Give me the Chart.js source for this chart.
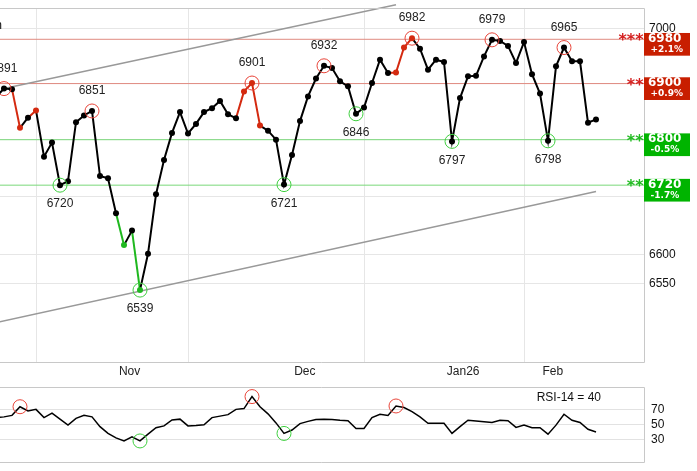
<!DOCTYPE html>
<html><head><meta charset="utf-8">
<script src="https://cdn.jsdelivr.net/npm/chart.js@4.4.1/dist/chart.umd.min.js"></script>
<style>
html,body{margin:0;padding:0;background:#fff;width:697px;height:471px;overflow:hidden;}
#c1{position:absolute;left:0;top:0;}
#c2{position:absolute;left:0;top:380px;}
</style></head><body>
<canvas id="c1" width="697" height="380"></canvas>
<canvas id="c2" width="697" height="91"></canvas>
<script>
// ---- data (index = trading day, 0 is just off the left edge) ----
const closes = [6876, 6891, 6890, 6821, 6839, 6852, 6770, 6795, 6720, 6727,
  6831, 6843, 6851, 6736, 6732, 6671, 6616, 6641, 6539, 6601,
  6704, 6764, 6812, 6849, 6811, 6828, 6849, 6856, 6869, 6845,
  6838, 6886, 6901, 6825, 6816, 6800, 6721, 6773, 6833, 6877,
  6909, 6932, 6928, 6904, 6895, 6846, 6857, 6901, 6943, 6919,
  6920, 6965, 6982, 6963, 6925, 6943, 6939, 6797, 6874, 6913,
  6914, 6949, 6979, 6977, 6968, 6937, 6975, 6917, 6882, 6798,
  6931, 6965, 6940, 6940, 6830, 6836];
const rsi = [59, 60, 62, 73.5, 68, 70, 59, 65, 57, 49,
  58, 62, 60, 47, 38, 32, 28, 33.5, 28, 37,
  45.5, 48, 56, 57, 48, 48.5, 49.5, 59, 61, 63,
  70, 71, 87, 73.5, 64, 52, 38, 42.5, 51, 54,
  56.5, 57, 56.5, 55.5, 55, 44.5, 44.5, 59, 63.5, 62,
  74.5, 72.5, 67, 60, 51.5, 51.5, 51.5, 38, 47, 55.5,
  54.5, 53.5, 52.5, 55.5, 55, 46, 49, 45.5, 45.5, 37,
  49, 63.5, 55.5, 52.5, 43.5, 40];
const peakIdx = [1, 12, 32, 41, 52, 62, 71];
const troughIdx = [8, 18, 36, 45, 57, 69];
const redIdx = [3, 5, 31, 32, 33, 50, 51, 52];
const greenIdx = [16, 18];
const levels = [6980, 6900, 6800, 6720];
const levelStars = ['***', '**', '**', '**'];
const levelPct = ['+2.1%', '+0.9%', '-0.5%', '-1.7%'];
const levelSide = ['up', 'up', 'down', 'down'];
const upperTrendIdx = [1, 50];
const upperTrendVal = [6891, 7043];
const lowerTrendIdx = [0, 75];
const lowerTrendVal = [6484, 6709];
const rsiPeakIdx = [3, 32, 50];
const rsiTroughIdx = [18, 36];
const rsiTicks = [30, 50, 70];
const rsiName = 'RSI-14';
const monthStartIdx = [5, 24, 46, 66];
const monthLabelIdx = [16.7, 38.6, 58.4, 69.6];
const monthLabels = ['Nov', 'Dec', 'Jan26', 'Feb'];
const yGridValues = [6550, 6600, 6700, 6800, 6900, 7000];
const yLabelValues = [7000, 6600, 6550];
const yRange = [6417.8, 7036.5];
const xRange = [0.5, 81];
const chartTitle = 'S&P 500 (SP500) Medium term';

// ---- styling ----
const RED = '#d42a10', GREEN = '#1fb81f';
const FONT = '"Liberation Sans", Arial, sans-serif';
const BOXFONT = '"DejaVu Sans", Verdana, sans-serif';
Chart.defaults.font.family = FONT;
Chart.defaults.font.size = 12;
Chart.defaults.color = '#111';

const zeroPad = s => { s.paddingTop = 0; s.paddingBottom = 0; s.paddingLeft = 0; s.paddingRight = 0; };

const frame = {
  id: 'frame',
  afterDraw(chart) {
    const {ctx, chartArea: a} = chart;
    ctx.save();
    ctx.strokeStyle = '#c8c8c8'; ctx.lineWidth = 1;
    const t = Math.round(a.top) + 0.5, b = Math.round(a.bottom) + 0.5, r = Math.round(a.right) + 0.5;
    ctx.beginPath();
    ctx.moveTo(a.left - 2, t); ctx.lineTo(r, t); ctx.lineTo(r, b); ctx.lineTo(a.left - 2, b);
    ctx.stroke();
    ctx.restore();
  }
};

const annot = {
  id: 'annot',
  afterDraw(chart) {
    const {ctx, chartArea: a, scales: {x, y}} = chart;
    ctx.save();
    ctx.font = '13px ' + FONT; ctx.fillStyle = '#222';
    ctx.textAlign = 'right'; ctx.textBaseline = 'middle';
    ctx.fillText(chartTitle, a.left + 2, a.top + 17);
    ctx.font = '12px ' + FONT; ctx.fillStyle = '#222';
    ctx.textAlign = 'center'; ctx.textBaseline = 'middle';
    peakIdx.forEach(i => ctx.fillText(String(closes[i]), x.getPixelForValue(i), y.getPixelForValue(closes[i]) - 20));
    troughIdx.forEach(i => ctx.fillText(String(closes[i]), x.getPixelForValue(i), y.getPixelForValue(closes[i]) + 19));
    levels.forEach((L, k) => {
      const py = y.getPixelForValue(L);
      const col = levelSide[k] === 'up' ? '#c81e00' : '#00b400';
      ctx.fillStyle = col;
      ctx.fillRect(a.right, py - 6.3, 46, 22.7);
      ctx.fillStyle = '#fff'; ctx.textAlign = 'left'; ctx.textBaseline = 'alphabetic';
      ctx.font = 'bold 12px ' + BOXFONT;
      ctx.fillText(String(L), a.right + 4, py + 2.6);
      ctx.font = 'bold 9px ' + BOXFONT;
      ctx.fillText(levelPct[k], a.right + 6.5, py + 12.4);
      ctx.fillStyle = levelSide[k] === 'up' ? '#d42020' : '#22bb22';
      ctx.font = 'bold 16px ' + BOXFONT; ctx.textAlign = 'right';
      ctx.fillText(levelStars[k], a.right - 0.5, py + 6);
    });
    ctx.restore();
  }
};

const pts = closes.map((v, i) => ({x: i, y: v}));
const ptColor = i => redIdx.includes(i) ? RED : (greenIdx.includes(i) ? GREEN : '#000');

const levelSets = levels.map((L, k) => ({
  data: [{x: xRange[0], y: L}, {x: xRange[1], y: L}],
  borderColor: levelSide[k] === 'up' ? '#e08a80' : '#7ad87a',
  borderWidth: 1, pointRadius: 0, order: 5
}));

new Chart(document.getElementById('c1'), {
  type: 'line',
  data: {
    datasets: [
      { data: peakIdx.map(i => ({x: i, y: closes[i]})), showLine: false, pointRadius: 7,
        pointBackgroundColor: 'rgba(0,0,0,0)', pointBorderColor: '#e8453a', pointBorderWidth: 1, order: 0 },
      { data: troughIdx.map(i => ({x: i, y: closes[i]})), showLine: false, pointRadius: 7,
        pointBackgroundColor: 'rgba(0,0,0,0)', pointBorderColor: '#3fcf3f', pointBorderWidth: 1, order: 0 },
      { data: pts, borderColor: '#000', borderWidth: 2, tension: 0,
        pointRadius: 3, pointBorderWidth: 0,
        pointBackgroundColor: closes.map((_, i) => ptColor(i)),
        segment: { borderColor: c => ptColor(c.p1DataIndex) },
        order: 1 },
      { data: upperTrendIdx.map((i, k) => ({x: i, y: upperTrendVal[k]})), borderColor: '#999', borderWidth: 1.5,
        pointRadius: 0, clip: false, order: 3 },
      { data: lowerTrendIdx.map((i, k) => ({x: i, y: lowerTrendVal[k]})), borderColor: '#999', borderWidth: 1.5,
        pointRadius: 0, order: 3 },
      ...levelSets
    ]
  },
  options: {
    responsive: false, animation: false, events: [],
    layout: { autoPadding: false, padding: { top: 8.3, left: 0, right: 0, bottom: 0 } },
    plugins: { legend: { display: false }, tooltip: { enabled: false } },
    scales: {
      x: {
        type: 'linear', min: xRange[0], max: xRange[1],
        afterBuildTicks: s => { s.ticks = [...monthStartIdx, ...monthLabelIdx].sort((a, b) => a - b).map(v => ({value: v})); },
        afterFit: s => { s.height = 18; zeroPad(s); },
        grid: { color: c => (c.tick && monthStartIdx.includes(c.tick.value)) ? '#e6e6e6' : 'rgba(0,0,0,0)', drawTicks: false },
        border: { display: false },
        ticks: { autoSkip: false, maxRotation: 0, padding: 2, color: '#222',
          callback: v => { const k = monthLabelIdx.indexOf(v); return k >= 0 ? monthLabels[k] : ''; } }
      },
      y: {
        type: 'logarithmic', position: 'right', min: yRange[0], max: yRange[1],
        afterBuildTicks: s => { s.ticks = yGridValues.map(v => ({value: v})); },
        afterFit: s => { s.width = 53; zeroPad(s); },
        grid: { color: '#e6e6e6', drawTicks: false },
        border: { display: false },
        ticks: { autoSkip: false, padding: 5, color: '#111',
          callback: v => yLabelValues.includes(v) ? String(v) : '' }
      }
    }
  },
  plugins: [frame, annot]
});

const rsiText = {
  id: 'rsiText',
  afterDraw(chart) {
    const {ctx, chartArea: a} = chart;
    ctx.save();
    ctx.font = '12px ' + FONT; ctx.fillStyle = '#111';
    ctx.textAlign = 'right'; ctx.textBaseline = 'middle';
    ctx.fillText(rsiName + ' = ' + rsi[rsi.length - 1], a.right - 43, a.top + 10.5);
    ctx.restore();
  }
};

new Chart(document.getElementById('c2'), {
  type: 'line',
  data: {
    datasets: [
      { data: rsiPeakIdx.map(i => ({x: i, y: rsi[i]})), showLine: false, pointRadius: 7,
        pointBackgroundColor: 'rgba(0,0,0,0)', pointBorderColor: '#e8453a', pointBorderWidth: 1, order: 0 },
      { data: rsiTroughIdx.map(i => ({x: i, y: rsi[i]})), showLine: false, pointRadius: 7,
        pointBackgroundColor: 'rgba(0,0,0,0)', pointBorderColor: '#3fcf3f', pointBorderWidth: 1, order: 0 },
      { data: rsi.map((v, i) => ({x: i, y: v})), borderColor: '#000', borderWidth: 1.5, tension: 0,
        pointRadius: 0, order: 1 }
    ]
  },
  options: {
    responsive: false, animation: false, events: [],
    layout: { autoPadding: false, padding: { top: 6.8, left: 0, right: 0, bottom: 9 } },
    plugins: { legend: { display: false }, tooltip: { enabled: false } },
    scales: {
      x: { type: 'linear', min: xRange[0], max: xRange[1], display: false },
      y: {
        type: 'linear', position: 'right', min: 0, max: 100,
        afterBuildTicks: s => { s.ticks = rsiTicks.map(v => ({value: v})); },
        afterFit: s => { s.width = 53; zeroPad(s); },
        grid: { color: '#e2e2e2', drawTicks: false },
        border: { display: false },
        ticks: { autoSkip: false, padding: 7, color: '#111' }
      }
    }
  },
  plugins: [frame, rsiText]
});
</script>
</body></html>
